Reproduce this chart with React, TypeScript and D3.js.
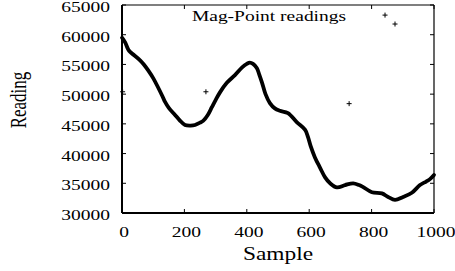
import React from "react";
import * as d3 from "d3";

const curveSamples = [0, 10, 20, 26, 40, 58, 70, 84, 100, 115, 130, 138, 150, 170, 185, 202, 220, 234, 250, 260, 275, 288, 300, 314, 336, 362, 385, 400, 410, 420, 432, 440, 449, 460, 474, 490, 506, 532, 560, 587, 596, 605, 618, 635, 651, 667, 689, 715, 741, 760, 772, 801, 833, 853, 875, 901, 929, 955, 975, 987, 1000];
const curveValues = [59500, 58700, 57500, 57100, 56500, 55700, 55000, 54000, 52700, 51200, 49600, 48700, 47700, 46500, 45600, 44800, 44700, 44800, 45200, 45500, 46500, 47800, 49000, 50300, 51900, 53200, 54500, 55100, 55300, 55100, 54400, 53300, 51900, 50000, 48500, 47600, 47200, 46800, 45300, 44000, 42800, 41200, 39400, 37600, 36000, 35000, 34300, 34700, 35000, 34700, 34400, 33500, 33300, 32700, 32200, 32700, 33400, 34700, 35300, 35700, 36400];
const outlierSamples = [2, 269, 728, 843, 875];
const outlierValues = [50400, 50400, 48400, 63300, 61800];
const xTicks = [0, 200, 400, 600, 800, 1000];
const yTicks = [30000, 35000, 40000, 45000, 50000, 55000, 60000, 65000];
const title = "Mag-Point readings";
const xLabel = "Sample";
const yLabel = "Reading";

const W = 455, H = 271;
const L = 122, R = 434, T = 5, B = 213;
const SX = 1.3;
const FONT = "'Liberation Serif', 'Times New Roman', serif";

export default function App() {
  const x = d3.scaleLinear().domain([0, 1000]).range([L, R]);
  const y = d3.scaleLinear().domain([30000, 65000]).range([B, T]);
  const pts: [number, number][] = curveSamples.map((s, i) => [s, curveValues[i]]);
  const line = d3.line<[number, number]>().x(d => x(d[0])).y(d => y(d[1])).curve(d3.curveCatmullRom);
  const tl = 4;
  return (
    <svg width={W} height={H} style={{ position: "absolute", left: 0, top: 0, background: "#fff" }} fontFamily={FONT}>
      <rect x={0} y={0} width={W} height={H} fill="#fff" />
      {/* ticks */}
      {xTicks.map(t => (
        <g key={"x" + t}>
          <line x1={x(t)} x2={x(t)} y1={B} y2={B - tl} stroke="#000" strokeWidth={1} />
          <line x1={x(t)} x2={x(t)} y1={T} y2={T + tl} stroke="#000" strokeWidth={1} />
          <text transform={`translate(${x(t) + 2},237) scale(${SX},1)`} fontSize={15} textAnchor="middle" fill="#000">{t}</text>
        </g>
      ))}
      {yTicks.map(t => (
        <g key={"y" + t}>
          <line x1={L} x2={L + tl} y1={y(t)} y2={y(t)} stroke="#000" strokeWidth={1} />
          <line x1={R} x2={R - tl} y1={y(t)} y2={y(t)} stroke="#000" strokeWidth={1} />
          <text transform={`translate(110,${y(t) + 7}) scale(${SX},1)`} fontSize={15} textAnchor="end" fill="#000">{t}</text>
        </g>
      ))}
      {/* frame */}
      <line x1={L} x2={R} y1={T} y2={T} stroke="#000" strokeWidth={1.2} />
      <line x1={R} x2={R} y1={T} y2={B} stroke="#000" strokeWidth={1.2} />
      <line x1={L} x2={L} y1={T} y2={B} stroke="#000" strokeWidth={2} />
      <line x1={L} x2={R} y1={B} y2={B} stroke="#000" strokeWidth={2} />
      {/* data */}
      <path d={line(pts) || ""} fill="none" stroke="#000" strokeWidth={3.8} strokeLinejoin="round" strokeLinecap="round" />
      {outlierSamples.map((s, i) => (
        <g key={"o" + i}>
          <line x1={x(s) - 2.5} x2={x(s) + 2.5} y1={y(outlierValues[i])} y2={y(outlierValues[i])} stroke="#000" strokeWidth={1} />
          <line x1={x(s)} x2={x(s)} y1={y(outlierValues[i]) - 2.5} y2={y(outlierValues[i]) + 2.5} stroke="#000" strokeWidth={1} />
        </g>
      ))}
      {/* title */}
      <text transform={`translate(269,21) scale(${SX},1)`} fontSize={15} textAnchor="middle" fill="#000">{title}</text>
      <text transform={`translate(278,260) scale(${SX},1)`} fontSize={18} textAnchor="middle" fill="#000">{xLabel}</text>
      <text transform={`translate(26,100) scale(${SX},1) rotate(-90)`} fontSize={17} textAnchor="middle" fill="#000">{yLabel}</text>
    </svg>
  );
}
